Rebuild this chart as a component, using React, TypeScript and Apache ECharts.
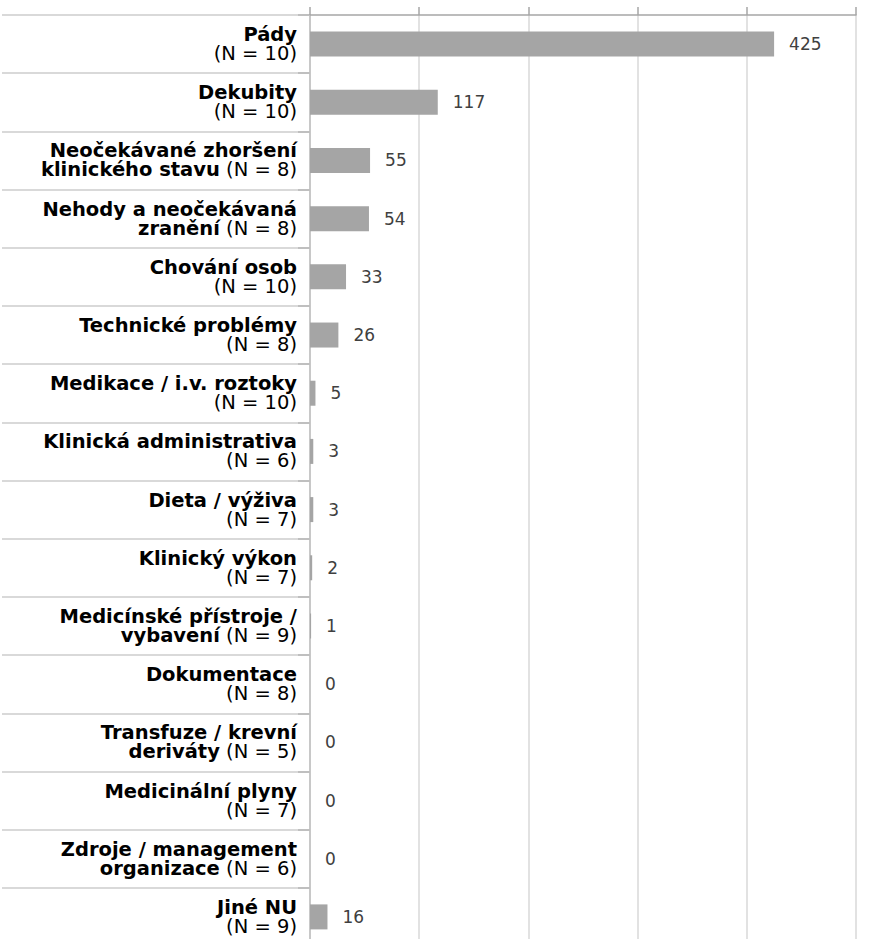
import React, { useEffect, useRef } from "react";
import * as echarts from "echarts";

const categories = [
  "Pády",
  "Dekubity",
  "Neočekávané zhoršení\nklinického stavu",
  "Nehody a neočekávaná\nzranění",
  "Chování osob",
  "Technické problémy",
  "Medikace / i.v. roztoky",
  "Klinická administrativa",
  "Dieta / výživa",
  "Klinický výkon",
  "Medicínské přístroje /\nvybavení",
  "Dokumentace",
  "Transfuze / krevní\nderiváty",
  "Medicinální plyny",
  "Zdroje / management\norganizace",
  "Jiné NU",
];
const nCounts = [10, 10, 8, 8, 10, 8, 10, 6, 7, 7, 9, 8, 5, 7, 6, 9];
const values = [425, 117, 55, 54, 33, 26, 5, 3, 3, 2, 1, 0, 0, 0, 0, 16];

const FONT = "DejaVu Sans";

export default function App() {
  const ref = useRef<HTMLDivElement>(null);
  useEffect(() => {
    if (!ref.current) return;
    const chart = echarts.init(ref.current, null, { renderer: "svg" });
    const formatter = (val: string) => {
      const idx = categories.indexOf(val);
      const n = `{n|(N = ${nCounts[idx]})}`;
      const lines = val.split("\n");
      if (lines.length > 1) {
        const out = lines.map((l) => `{b|${l}}`);
        out[out.length - 1] += `{n| }${n}`;
        return out.join("\n");
      }
      return `{b|${lines[0]}}\n${n}`;
    };
    chart.setOption({
      animation: false,
      grid: { left: 310, right: 25, top: 15, bottom: 0, containLabel: false },
      xAxis: {
        type: "value",
        position: "top",
        min: 0,
        max: 500,
        interval: 100,
        axisLabel: { show: false },
        axisLine: { show: true, lineStyle: { color: "#a6a6a6", width: 1.5 } },
        axisTick: { show: true, length: 8, lineStyle: { color: "#a6a6a6", width: 1.5 } },
        splitLine: { show: true, lineStyle: { color: "#d9d9d9", width: 1.5 } },
      },
      yAxis: [
        {
          type: "category",
          data: categories,
          inverse: true,
          axisLine: { show: true, lineStyle: { color: "#bfbfbf", width: 1.5 } },
          axisTick: { show: true, interval: 0, length: 308, lineStyle: { color: "#d9d9d9", width: 2 } },
          axisLabel: {
            interval: 0,
            margin: 13,
            align: "right",
            formatter,
            rich: {
              b: { fontFamily: FONT, fontWeight: "bold", fontSize: 19.5, lineHeight: 19, color: "#000", align: "right" },
              n: { fontFamily: FONT, fontWeight: "normal", fontSize: 19.5, lineHeight: 19, color: "#000", align: "right" },
            },
          },
        },
        {
          type: "category",
          data: categories,
          inverse: true,
          position: "left",
          axisLine: { show: false },
          axisTick: { show: true, interval: 0, length: 12, lineStyle: { color: "#bfbfbf", width: 2 } },
          axisLabel: { show: false },
          splitLine: { show: false },
        },
      ],
      series: [
        {
          type: "bar",
          yAxisIndex: 0,
          data: values,
          barWidth: 25,
          itemStyle: { color: "#a5a5a5" },
          label: {
            show: true,
            position: "right",
            distance: 15,
            fontFamily: FONT,
            fontSize: 17,
            color: "#404040",
          },
        },
      ],
    });
    return () => chart.dispose();
  }, []);
  return (
    <div
      ref={ref}
      style={{ position: "fixed", left: 0, top: 0, width: 881, height: 946, background: "#fff" }}
    />
  );
}
